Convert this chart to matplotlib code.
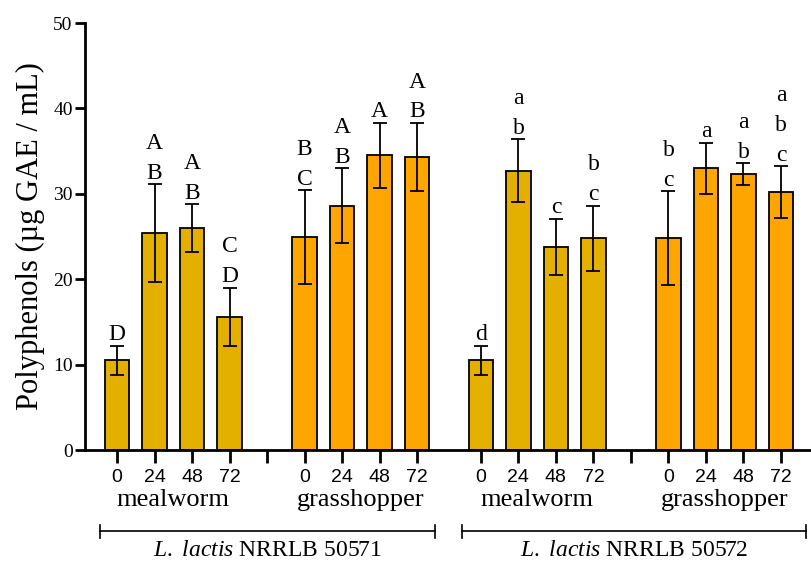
import matplotlib.pyplot as plt
import numpy as np

plt.rcParams['font.family'] = 'Liberation Serif'
plt.rcParams['mathtext.fontset'] = 'custom'
plt.rcParams['mathtext.rm'] = 'Liberation Serif'
plt.rcParams['mathtext.it'] = 'Liberation Serif:italic'

# data
hours = ['0', '24', '48', '72']
substrates = ['mealworm', 'grasshopper', 'mealworm', 'grasshopper']
strain_ids = ['NRRLB 50571', 'NRRLB 50572']

means = [
    [10.5, 25.4, 26.0, 15.6],   # 50571 mealworm
    [24.9, 28.6, 34.5, 34.3],   # 50571 grasshopper
    [10.5, 32.7, 23.8, 24.8],   # 50572 mealworm
    [24.8, 33.0, 32.3, 30.2],   # 50572 grasshopper
]
errors = [
    [1.7, 5.7, 2.8, 3.4],
    [5.5, 4.4, 3.8, 4.0],
    [1.7, 3.7, 3.3, 3.8],
    [5.5, 3.0, 1.3, 3.0],
]
letters = [
    [['D'], ['A', 'B'], ['A', 'B'], ['C', 'D']],
    [['B', 'C'], ['A', 'B'], ['A'], ['A', 'B']],
    [['d'], ['a', 'b'], ['c'], ['b', 'c']],
    [['b', 'c'], ['a'], ['a', 'b'], ['a', 'b', 'c']],
]

colors = ['#E3B000', '#FFA500', '#E3B000', '#FFA500']
group_start = [0, 5, 9.7, 14.7]

fig = plt.figure(figsize=(8.11, 5.63), dpi=100)
ax = fig.add_axes([0.105, 0.2007, 0.895, 0.7584])

tick_pos, tick_lab = [], []
for g in range(4):
    x = group_start[g] + np.arange(len(hours))
    top = np.array(means[g]) + np.array(errors[g])
    ax.bar(x, means[g], width=0.65, color=colors[g], edgecolor='black',
           linewidth=1.3, zorder=2)
    ax.errorbar(x, means[g], yerr=errors[g], fmt='none', ecolor='black',
                elinewidth=1.3, capsize=5, capthick=1.3, zorder=3)
    for xi, ti, lets in zip(x, top, letters[g]):
        for k, let in enumerate(reversed(lets)):
            ax.annotate(let, (xi, ti), xytext=(0, 4 + k * 21.5),
                        textcoords='offset points', ha='center', va='baseline',
                        fontsize=17)
    tick_pos += list(x)
    tick_lab += hours
    ax.text(group_start[g] + 1.5, -0.118, substrates[g], transform=ax.get_xaxis_transform(),
            ha='center', va='center', fontsize=19)

# unlabeled ticks between substrate groups
tick_pos += [4, 13.7]
tick_lab += ['', '']

ax.set_xticks(tick_pos)
ax.set_xticklabels(tick_lab, fontfamily='Liberation Sans', fontsize=14)
ax.tick_params(axis='x', length=9, width=2, pad=5)
ax.set_xlim(-0.85, 18.5)
ax.set_ylim(0, 50)
ax.set_yticks([0, 10, 20, 30, 40, 50])
ax.tick_params(axis='y', length=7, width=2, labelsize=14, pad=2)
ax.spines['top'].set_visible(False)
ax.spines['right'].set_visible(False)
ax.spines['left'].set_linewidth(2)
ax.spines['bottom'].set_linewidth(2)
ax.set_ylabel('Polyphenols (µg GAE / mL)', fontsize=22, labelpad=6)

# strain brackets
brackets = [(-0.45, 8.48), (9.2, 18.37)]
trans = ax.get_xaxis_transform()
for (x0, x1), sid in zip(brackets, strain_ids):
    ax.plot([x0, x1], [-0.19, -0.19], color='black', lw=1.2, transform=trans, clip_on=False)
    for xe in (x0, x1):
        ax.plot([xe, xe], [-0.175, -0.205], color='black', lw=1.2, transform=trans, clip_on=False)
    label = r'$\mathit{L.}$ $\mathit{lactis}$ ' + sid
    ax.text((x0 + x1) / 2, -0.236, label, transform=trans, ha='center', va='center', fontsize=17)

fig.savefig('out.png', dpi=100)
